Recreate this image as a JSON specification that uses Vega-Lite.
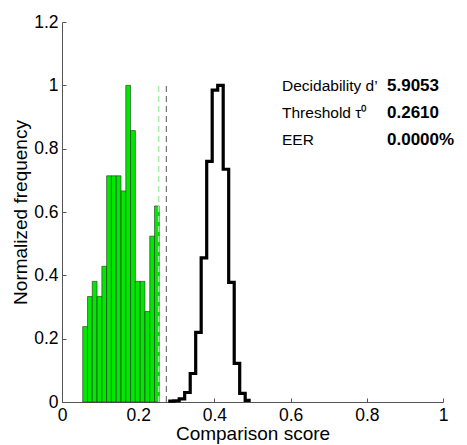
{
  "$schema": "https://vega.github.io/schema/vega-lite/v6.json",
  "width": 381,
  "height": 380,
  "autosize": {"type": "none"},
  "padding": {"left": 62, "top": 22, "right": 24, "bottom": 43},
  "background": "white",
  "config": {
    "view": {"stroke": null},
    "font": "Liberation Sans",
    "axis": {
      "grid": false,
      "domainColor": "#555555",
      "tickColor": "#555555",
      "labelColor": "black",
      "titleColor": "black",
      "labelFontSize": 17.5,
      "titleFontSize": 19,
      "titleFontWeight": "normal",
      "labelFont": "Liberation Sans",
      "titleFont": "Liberation Sans",
      "tickSize": -4,
      "labelFlush": false,
      "labelOverlap": false
    }
  },
  "datasets": {
    "genuine": [
      {"x0": 0.0543, "x1": 0.0669, "f": 0.2381},
      {"x0": 0.0669, "x1": 0.0794, "f": 0.3333},
      {"x0": 0.0794, "x1": 0.0920, "f": 0.3810},
      {"x0": 0.0920, "x1": 0.1046, "f": 0.3333},
      {"x0": 0.1046, "x1": 0.1171, "f": 0.4286},
      {"x0": 0.1171, "x1": 0.1297, "f": 0.7143},
      {"x0": 0.1297, "x1": 0.1423, "f": 0.7143},
      {"x0": 0.1423, "x1": 0.1549, "f": 0.7143},
      {"x0": 0.1549, "x1": 0.1674, "f": 0.6667},
      {"x0": 0.1674, "x1": 0.1800, "f": 1.0},
      {"x0": 0.1800, "x1": 0.1926, "f": 0.8571},
      {"x0": 0.1926, "x1": 0.2051, "f": 0.3810},
      {"x0": 0.2051, "x1": 0.2177, "f": 0.3810},
      {"x0": 0.2177, "x1": 0.2303, "f": 0.2857},
      {"x0": 0.2303, "x1": 0.2429, "f": 0.5238},
      {"x0": 0.2429, "x1": 0.2554, "f": 0.6190}
    ],
    "impostor": [
      {"x": 0.2787, "f": 0.003},
      {"x": 0.2932, "f": 0.004},
      {"x": 0.3076, "f": 0.010},
      {"x": 0.3220, "f": 0.030},
      {"x": 0.3365, "f": 0.090},
      {"x": 0.3509, "f": 0.220},
      {"x": 0.3653, "f": 0.455},
      {"x": 0.3798, "f": 0.760},
      {"x": 0.3942, "f": 0.985},
      {"x": 0.4087, "f": 1.000},
      {"x": 0.4231, "f": 0.735},
      {"x": 0.4375, "f": 0.378},
      {"x": 0.4520, "f": 0.122},
      {"x": 0.4664, "f": 0.027},
      {"x": 0.4808, "f": 0.005},
      {"x": 0.4953, "f": 0.005}
    ],
    "stats": [
      {"label": "Decidability d\u2019", "value": "5.9053", "ty": 0.982},
      {"label": "Threshold \u03c4\u2070", "value": "0.2610", "ty": 0.897},
      {"label": "EER", "value": "0.0000%", "ty": 0.813}
    ]
  },
  "layer": [
    {
      "data": {"name": "genuine"},
      "mark": {"type": "rect", "fill": "#00e800", "stroke": "#2a2a2a", "strokeWidth": 0.6},
      "encoding": {
        "x": {
          "field": "x0", "type": "quantitative",
          "scale": {"domain": [0, 1], "nice": false, "zero": false},
          "axis": {"title": "Comparison score", "values": [0, 0.2, 0.4, 0.6, 0.8, 1], "format": "~g", "labelPadding": 8, "titlePadding": 1}
        },
        "x2": {"field": "x1"},
        "y": {
          "field": "f", "type": "quantitative",
          "scale": {"domain": [0, 1.2], "nice": false},
          "axis": {"title": "Normalized frequency", "values": [0, 0.2, 0.4, 0.6, 0.8, 1, 1.2], "format": "~g", "labelPadding": 8, "titlePadding": 3}
        },
        "y2": {"datum": 0}
      }
    },
    {
      "data": {"values": [{"x": 0.2537}]},
      "mark": {"type": "rule", "color": "#a8f0a8", "strokeWidth": 1.5, "strokeDash": [6, 4]},
      "encoding": {
        "x": {"field": "x", "type": "quantitative"},
        "y": {"datum": 0},
        "y2": {"datum": 1}
      }
    },
    {
      "data": {"values": [{"x": 0.2738}]},
      "mark": {"type": "rule", "color": "#555555", "strokeWidth": 1, "strokeDash": [6, 4]},
      "encoding": {
        "x": {"field": "x", "type": "quantitative"},
        "y": {"datum": 0},
        "y2": {"datum": 1}
      }
    },
    {
      "data": {"name": "impostor"},
      "mark": {"type": "line", "interpolate": "step-after", "color": "black", "strokeWidth": 3.2, "strokeJoin": "miter"},
      "encoding": {
        "x": {"field": "x", "type": "quantitative"},
        "y": {"field": "f", "type": "quantitative"}
      }
    },
    {
      "data": {"name": "stats"},
      "mark": {"type": "text", "align": "left", "baseline": "alphabetic", "fontSize": 15.5, "color": "black"},
      "encoding": {
        "x": {"datum": 0.5775},
        "y": {"field": "ty", "type": "quantitative"},
        "text": {"field": "label"}
      }
    },
    {
      "data": {"name": "stats"},
      "mark": {"type": "text", "align": "left", "baseline": "alphabetic", "fontSize": 17, "fontWeight": "bold", "color": "black"},
      "encoding": {
        "x": {"datum": 0.853},
        "y": {"field": "ty", "type": "quantitative"},
        "text": {"field": "value"}
      }
    }
  ]
}
